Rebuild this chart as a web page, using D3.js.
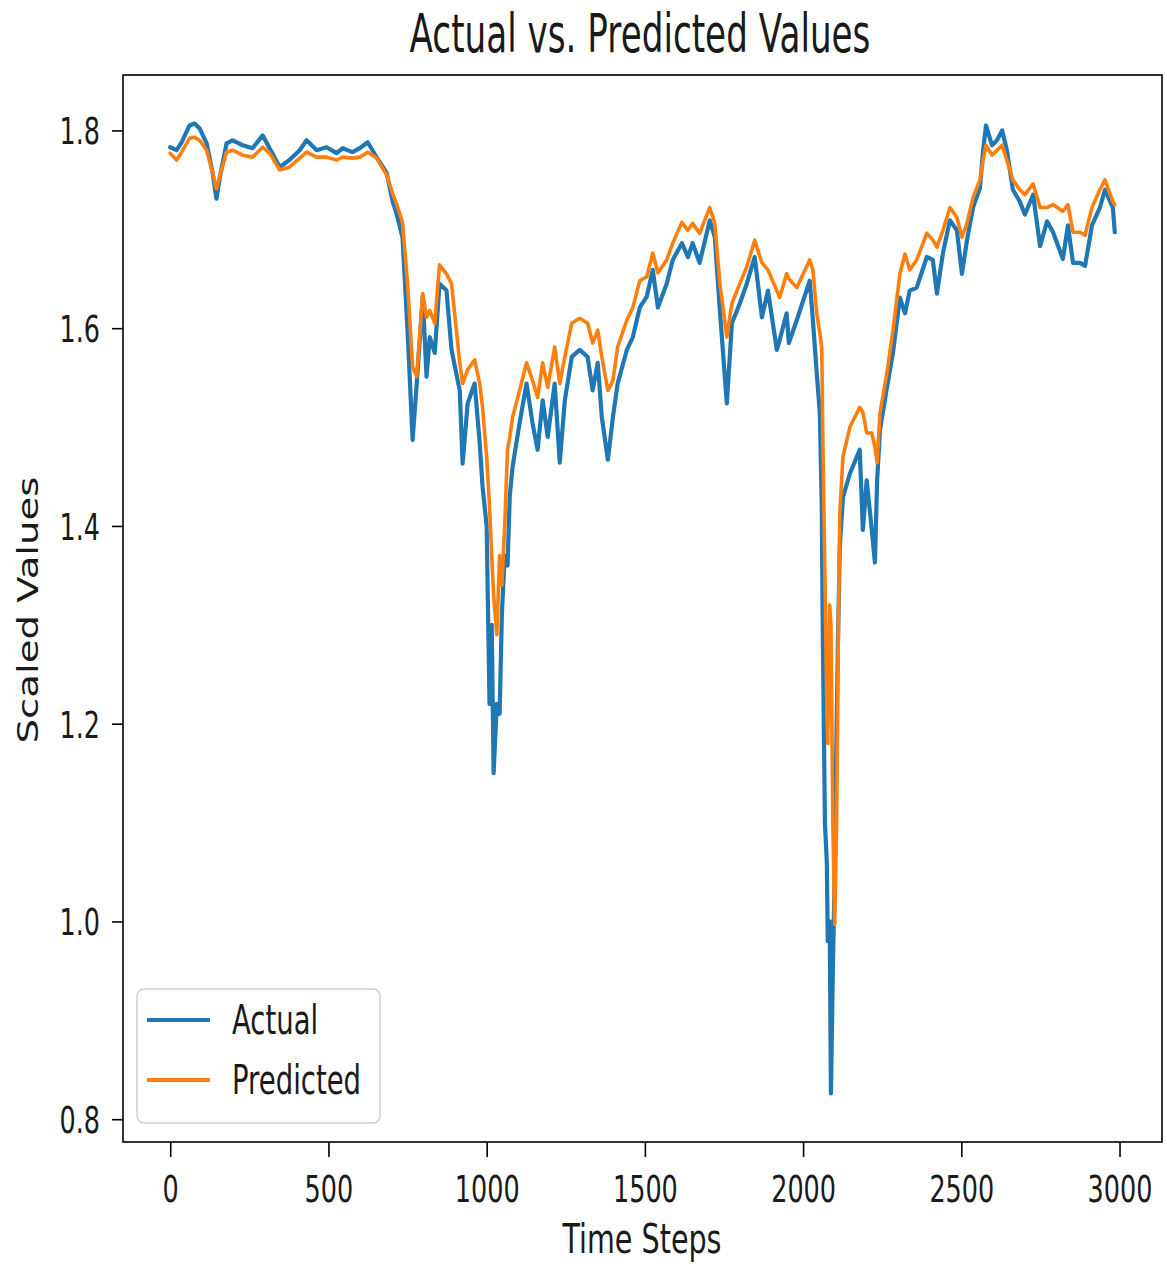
<!DOCTYPE html>
<html>
<head>
<meta charset="utf-8">
<script src="https://cdn.jsdelivr.net/npm/d3@7"></script>
<style>
  body { margin: 0; background: #fff; }
  svg text { font-family: "DejaVu Sans", sans-serif; fill: #1a1a1a; }
</style>
</head>
<body>
<div id="chart"></div>
<script>
// time steps (denser around the sharp dips)
var timeSteps = [
    0, 20, 36, 61, 77, 93, 115, 134, 146, 156,
    178, 197, 229, 260, 292, 314, 346, 377, 409, 431,
    463, 494, 526, 545, 576, 599, 624, 652, 684, 703,
    715, 734, 750, 766, 779, 798, 810, 820, 836, 851,
    873, 889, 915, 924, 940, 962, 978, 987, 1000, 1009,
    1016, 1022, 1032, 1041, 1048, 1057, 1066, 1073, 1082, 1104,
    1126, 1145, 1161, 1177, 1193, 1215, 1231, 1247, 1269, 1294,
    1319, 1335, 1351, 1364, 1383, 1399, 1414, 1443, 1462, 1484,
    1506, 1525, 1541, 1569, 1588, 1617, 1636, 1651, 1673, 1705,
    1721, 1737, 1759, 1775, 1800, 1822, 1847, 1870, 1889, 1917,
    1926, 1948, 1955, 1980, 2021, 2031, 2043, 2053, 2059, 2062,
    2069, 2075, 2078, 2084, 2088, 2094, 2100, 2106, 2110, 2116,
    2126, 2148, 2179, 2189, 2201, 2217, 2227, 2234, 2243, 2265,
    2284, 2306, 2322, 2337, 2359, 2391, 2410, 2423, 2442, 2464,
    2486, 2502, 2518, 2537, 2559, 2569, 2578, 2597, 2613, 2629,
    2644, 2663, 2685, 2701, 2727, 2749, 2771, 2790, 2821, 2837,
    2853, 2875, 2891, 2913, 2938, 2954, 2979, 2985
];
var actualValues = [
    1.783, 1.780, 1.788, 1.805, 1.807, 1.802, 1.787, 1.757, 1.731, 1.751,
    1.787, 1.790, 1.785, 1.782, 1.795, 1.782, 1.763, 1.770, 1.780, 1.790,
    1.780, 1.783, 1.777, 1.782, 1.778, 1.782, 1.788, 1.773, 1.757, 1.728,
    1.716, 1.692, 1.598, 1.487, 1.544, 1.632, 1.551, 1.591, 1.575, 1.645,
    1.638, 1.578, 1.537, 1.463, 1.524, 1.544, 1.484, 1.44, 1.40, 1.22,
    1.30, 1.15, 1.22, 1.21, 1.31, 1.37, 1.36, 1.43, 1.460, 1.504,
    1.544, 1.504, 1.477, 1.527, 1.490, 1.544, 1.464, 1.527, 1.571, 1.578,
    1.571, 1.537, 1.565, 1.510, 1.467, 1.510, 1.544, 1.578, 1.591, 1.621,
    1.632, 1.659, 1.621, 1.645, 1.669, 1.686, 1.672, 1.686, 1.666, 1.709,
    1.692, 1.618, 1.524, 1.605, 1.625, 1.645, 1.672, 1.611, 1.638, 1.578,
    1.588, 1.615, 1.585, 1.608, 1.648, 1.608, 1.555, 1.514, 1.42, 1.30,
    1.10, 1.06, 0.98, 1.00, 0.826, 0.95, 1.05, 1.20, 1.28, 1.379,
    1.429, 1.453, 1.477, 1.396, 1.446, 1.396, 1.363, 1.446, 1.497, 1.540,
    1.575, 1.631, 1.615, 1.638, 1.641, 1.672, 1.669, 1.635, 1.676, 1.709,
    1.699, 1.655, 1.689, 1.722, 1.742, 1.78, 1.805, 1.785, 1.79, 1.80,
    1.78, 1.74, 1.728, 1.715, 1.735, 1.683, 1.708, 1.697, 1.670, 1.704,
    1.666, 1.666, 1.663, 1.704, 1.722, 1.740, 1.722, 1.697
];
var predictedValues = [
    1.777, 1.770, 1.778, 1.792, 1.793, 1.790, 1.780, 1.757, 1.741, 1.753,
    1.778, 1.780, 1.775, 1.773, 1.783, 1.777, 1.760, 1.763, 1.772, 1.778,
    1.773, 1.773, 1.770, 1.773, 1.772, 1.773, 1.778, 1.772, 1.755, 1.736,
    1.726, 1.707, 1.645, 1.561, 1.551, 1.635, 1.611, 1.618, 1.605, 1.664,
    1.655, 1.645, 1.565, 1.544, 1.558, 1.568, 1.544, 1.52, 1.47, 1.42,
    1.37, 1.33, 1.29, 1.37, 1.34, 1.40, 1.477, 1.49, 1.510, 1.537,
    1.565, 1.547, 1.530, 1.565, 1.540, 1.581, 1.544, 1.571, 1.605, 1.610,
    1.605, 1.585, 1.598, 1.571, 1.537, 1.547, 1.581, 1.608, 1.621, 1.648,
    1.652, 1.676, 1.656, 1.669, 1.686, 1.707, 1.699, 1.706, 1.696, 1.722,
    1.706, 1.645, 1.591, 1.625, 1.645, 1.662, 1.689, 1.666, 1.659, 1.638,
    1.631, 1.655, 1.650, 1.641, 1.669, 1.659, 1.615, 1.595, 1.58, 1.50,
    1.35, 1.22, 1.18, 1.32, 1.30, 1.10, 0.997, 1.10, 1.25, 1.413,
    1.470, 1.500, 1.520, 1.515, 1.494, 1.494, 1.480, 1.464, 1.514, 1.555,
    1.598, 1.655, 1.675, 1.659, 1.669, 1.696, 1.689, 1.682, 1.699, 1.722,
    1.712, 1.692, 1.706, 1.732, 1.750, 1.77, 1.785, 1.775, 1.78, 1.785,
    1.77, 1.75, 1.740, 1.735, 1.746, 1.722, 1.722, 1.725, 1.718, 1.725,
    1.697, 1.697, 1.694, 1.722, 1.740, 1.750, 1.728, 1.725
];
var xTickValues = [0, 500, 1000, 1500, 2000, 2500, 3000];
var yTickValues = [0.8, 1.0, 1.2, 1.4, 1.6, 1.8];
var seriesNames = ["Actual", "Predicted"];
var seriesColors = ["#1f77b4", "#ff7f0e"];

var chartWidth = 1167,
    chartHeight = 1267;
var plot = {left: 123, right: 1162, top: 75, bottom: 1142};
// the reference is stretched vertically, so text gets the same stretch
var stretch = 1.48;

var svg = d3.select("#chart").append("svg")
            .attr("width", chartWidth)
            .attr("height", chartHeight);

// matplotlib style 5% margins around the data
var xExtent = d3.extent(timeSteps);
var yExtent = d3.extent(actualValues.concat(predictedValues));
var xPad = (xExtent[1] - xExtent[0]) * 0.05;
var yPad = (yExtent[1] - yExtent[0]) * 0.05;

var xScale = d3.scaleLinear()
        .domain([xExtent[0] - xPad, xExtent[1] + xPad])
        .range([plot.left, plot.right]);
var yScale = d3.scaleLinear()
        .domain([yExtent[0] - yPad, yExtent[1] + yPad])
        .range([plot.bottom, plot.top]);

var seriesData = [actualValues, predictedValues].map(function(values) {
    return timeSteps.map(function(t, i) { return {t: t, v: values[i]}; });
});

var line = d3.line()
        .x(function(d) { return xScale(d.t); })
        .y(function(d) { return yScale(d.v); })
        .curve(d3.curveLinear);

var dataGroup = svg.append("g");
dataGroup.selectAll("path")
        .data(seriesData)
        .enter()
        .append("path")
        .attr("d", line)
        .attr("fill", "none")
        .attr("stroke", function(d, i) { return seriesColors[i]; })
        .attr("stroke-width", function(d, i) { return i === 0 ? 4.2 : 3.6; })
        .attr("stroke-linejoin", "round")
        .attr("stroke-linecap", "round");

// axes frame
svg.append("rect")
        .attr("x", plot.left)
        .attr("y", plot.top)
        .attr("width", plot.right - plot.left)
        .attr("height", plot.bottom - plot.top)
        .attr("fill", "none")
        .attr("stroke", "#000")
        .attr("stroke-width", 1.6);

// x axis
var xAxis = svg.append("g")
        .attr("transform", "translate(0," + plot.bottom + ")")
        .call(d3.axisBottom(xScale).tickValues(xTickValues).tickSize(15).tickSizeOuter(0).tickFormat(d3.format("d")));
xAxis.select(".domain").remove();
xAxis.selectAll(".tick line").attr("stroke", "#000").attr("stroke-width", 1.6);
xAxis.selectAll(".tick text")
        .attr("y", 0)
        .attr("dy", null)
        .attr("transform", "translate(0,60) scale(1," + stretch + ")")
        .attr("font-size", 25.5);

// y axis
var yAxis = svg.append("g")
        .attr("transform", "translate(" + plot.left + ",0)")
        .call(d3.axisLeft(yScale).tickValues(yTickValues).tickSize(11).tickSizeOuter(0).tickFormat(d3.format(".1f")));
yAxis.select(".domain").remove();
yAxis.selectAll(".tick line").attr("stroke", "#000").attr("stroke-width", 1.6);
yAxis.selectAll(".tick text")
        .attr("x", 0)
        .attr("dy", null)
        .attr("transform", "translate(-23,13.5) scale(1," + stretch + ")")
        .attr("font-size", 25.5);

// title and axis labels
svg.append("text")
        .attr("transform", "translate(640,52) scale(1,1.55)")
        .attr("text-anchor", "middle")
        .attr("font-size", 34.2)
        .text("Actual vs. Predicted Values");
svg.append("text")
        .attr("transform", "translate(642,1253) scale(1,1.4)")
        .attr("text-anchor", "middle")
        .attr("font-size", 28.6)
        .text("Time Steps");
svg.append("text")
        .attr("transform", "translate(38,610) rotate(-90) scale(1.38,1)")
        .attr("text-anchor", "middle")
        .attr("font-size", 28)
        .text("Scaled Values");

// legend
var legend = svg.append("g");
legend.append("rect")
        .attr("x", 137)
        .attr("y", 989)
        .attr("width", 243)
        .attr("height", 134)
        .attr("rx", 7)
        .attr("fill", "#fff")
        .attr("fill-opacity", 0.8)
        .attr("stroke", "#d0d0d0")
        .attr("stroke-width", 1.5);
var legendItems = legend.selectAll("g.item")
        .data(seriesNames)
        .enter()
        .append("g")
        .attr("class", "item")
        .attr("transform", function(d, i) { return "translate(0," + (1020 + i * 60) + ")"; });
legendItems.append("line")
        .attr("x1", 147)
        .attr("x2", 210)
        .attr("stroke", function(d, i) { return seriesColors[i]; })
        .attr("stroke-width", 4);
legendItems.append("text")
        .attr("transform", "translate(232,14) scale(1,1.5)")
        .attr("font-size", 27.5)
        .text(function(d) { return d; });
</script>
</body>
</html>
